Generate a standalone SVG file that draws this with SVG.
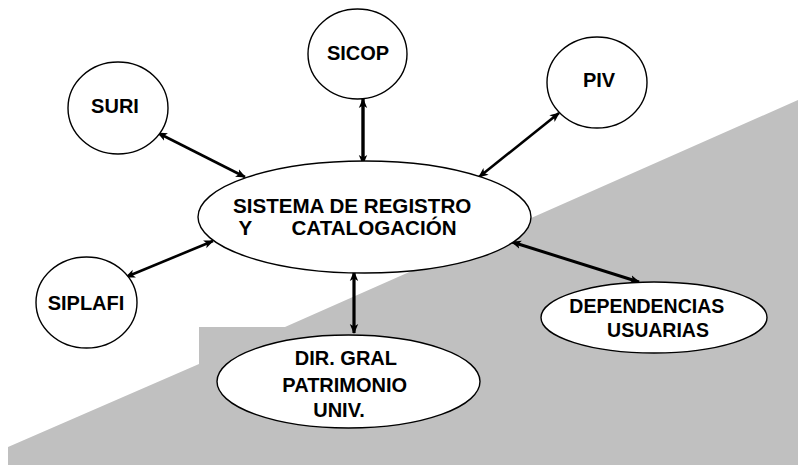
<svg xmlns="http://www.w3.org/2000/svg" width="798" height="465" viewBox="0 0 798 465">
<style>
.node{fill:#fff;stroke:#000;stroke-width:1.4}
.lbl{font-family:"Liberation Sans",Arial,sans-serif;font-weight:bold;font-size:20px;fill:#000;text-anchor:middle}
.con{stroke:#000;stroke-width:2.6;fill:none;marker-start:url(#ah);marker-end:url(#ah)}
</style>
<defs>
<marker id="ah" markerUnits="userSpaceOnUse" viewBox="0 0 10 10" refX="9" refY="5" markerWidth="10" markerHeight="10" orient="auto-start-reverse">
<path d="M0,0.8 L10,5 L0,9.2 L2.5,5 Z" fill="#000"/>
</marker>
</defs>
<rect width="798" height="465" fill="#fff"/>
<polygon points="8,447 199,364 199,327 285,327 798,100 798,465 8,465" fill="#c0c0c0"/>
<g id="connectors">
<line class="con" x1="158" y1="133" x2="245" y2="177"/>
<line class="con" x1="363" y1="99" x2="363" y2="164" style="stroke-width:3.4"/>
<line class="con" x1="559" y1="113" x2="479" y2="177"/>
<line class="con" x1="126" y1="277" x2="213" y2="241"/>
<line class="con" x1="354" y1="272" x2="354" y2="333" style="stroke-width:3.2"/>
<line class="con" x1="512" y1="242" x2="639" y2="282" style="stroke-width:3"/>
</g>
<g id="suri">
<ellipse class="node" cx="118" cy="108" rx="50" ry="46"/>
<text class="lbl" x="115" y="113" font-size="19">SURI</text>
</g>
<g id="sicop">
<ellipse class="node" cx="357.5" cy="54" rx="49.5" ry="45"/>
<text class="lbl" x="358" y="60">SICOP</text>
</g>
<g id="piv">
<ellipse class="node" cx="597" cy="82.5" rx="50" ry="45.5"/>
<text class="lbl" x="599" y="87">PIV</text>
</g>
<g id="siplafi">
<ellipse class="node" cx="86.5" cy="302.5" rx="50.5" ry="45.5"/>
<text class="lbl" x="86" y="310">SIPLAFI</text>
</g>
<g id="sistema">
<ellipse class="node" cx="364.5" cy="217" rx="166.5" ry="56"/>
<text class="lbl" style="font-size:20.6px">
<tspan x="355" y="213">SISTEMA DE REGISTRO</tspan>
<tspan x="248" y="235">Y</tspan>
<tspan x="374" y="235">CATALOGACIÓN</tspan>
</text>
</g>
<g id="dependencias">
<ellipse class="node" cx="654" cy="317.5" rx="113" ry="35.5"/>
<text class="lbl" style="font-size:19.5px">
<tspan x="649.5" y="313">DEPENDENCIAS</tspan>
<tspan x="658" y="337">USUARIAS</tspan>
</text>
</g>
<g id="dirgral">
<ellipse class="node" cx="348.5" cy="381.5" rx="131.5" ry="46.5"/>
<text class="lbl">
<tspan x="348.5" y="365">DIR. GRAL</tspan>
<tspan x="347.5" y="392">PATRIMONIO</tspan>
<tspan x="339" y="417">UNIV.</tspan>
</text>
</g>
</svg>
